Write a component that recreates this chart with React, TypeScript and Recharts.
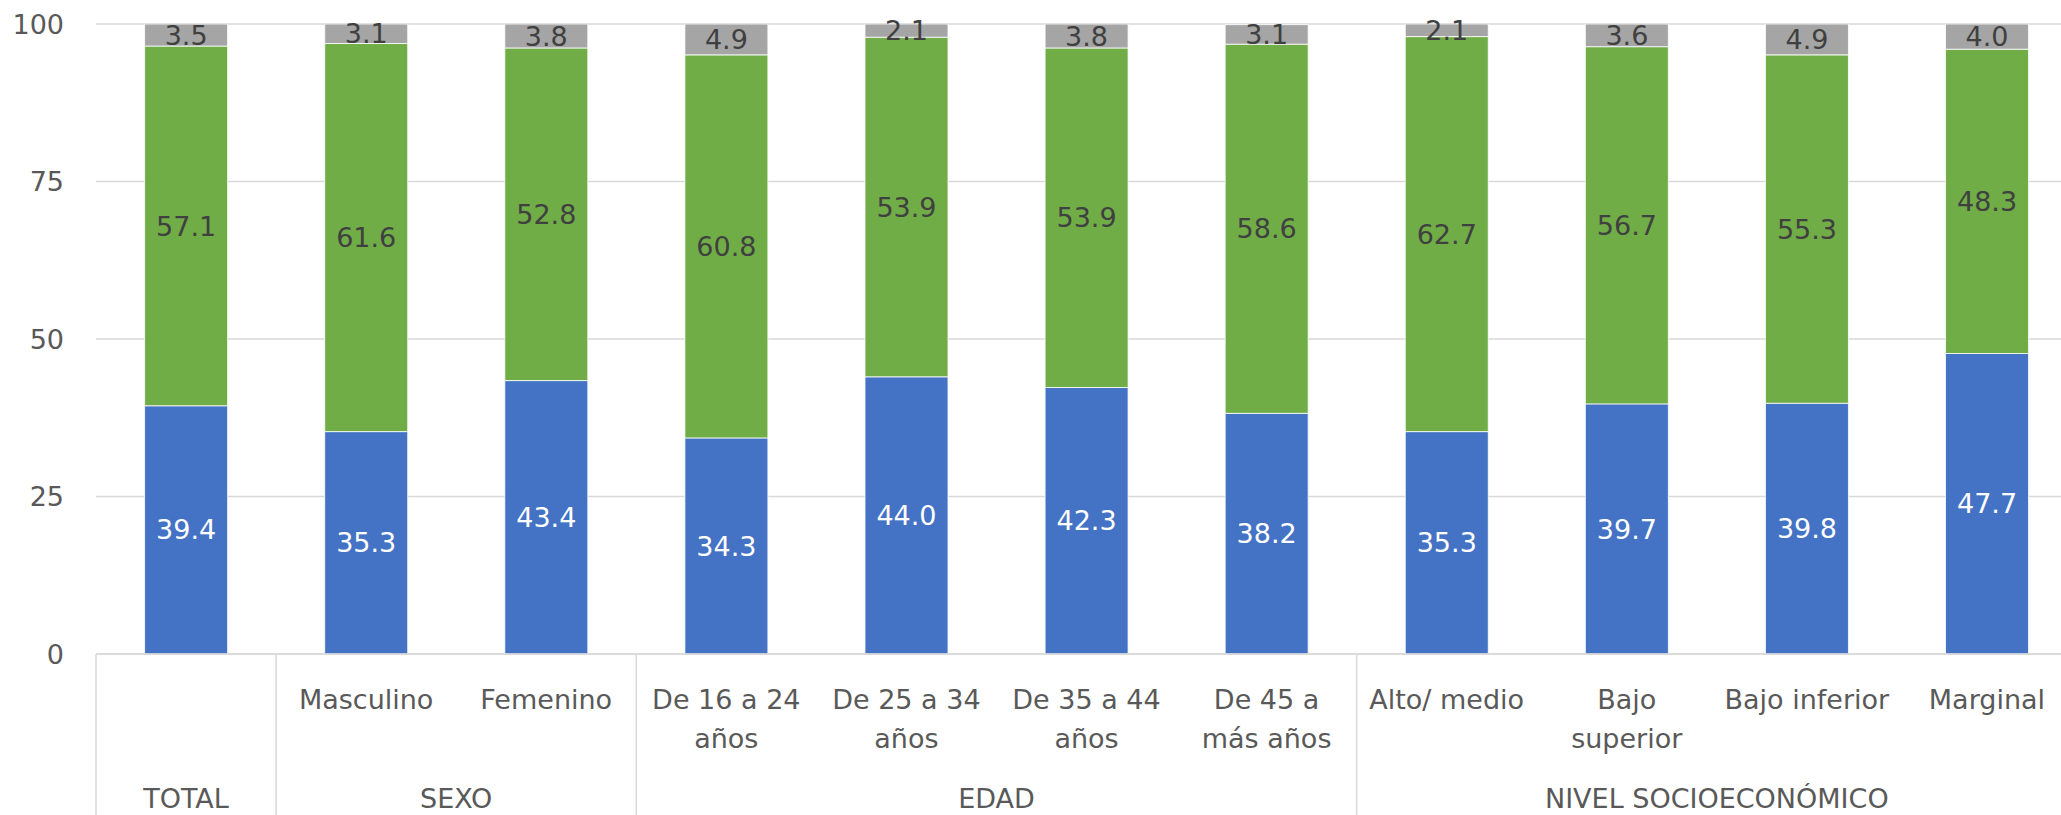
import React from 'react';
import { BarChart, Bar, XAxis, YAxis, CartesianGrid, LabelList } from 'recharts';

const categories = ['TOTAL', 'Masculino', 'Femenino', 'De 16 a 24 años', 'De 25 a 34 años', 'De 35 a 44 años', 'De 45 a más años', 'Alto/ medio', 'Bajo superior', 'Bajo inferior', 'Marginal'];
const categoryLabels = ['', 'Masculino', 'Femenino', 'De 16 a 24\naños', 'De 25 a 34\naños', 'De 35 a 44\naños', 'De 45 a\nmás años', 'Alto/ medio', 'Bajo\nsuperior', 'Bajo inferior', 'Marginal'];
const blueValues = [39.4, 35.3, 43.4, 34.3, 44.0, 42.3, 38.2, 35.3, 39.7, 39.8, 47.7];
const greenValues = [57.1, 61.6, 52.8, 60.8, 53.9, 53.9, 58.6, 62.7, 56.7, 55.3, 48.3];
const grayValues = [3.5, 3.1, 3.8, 4.9, 2.1, 3.8, 3.1, 2.1, 3.6, 4.9, 4.0];
const yTicks = [0, 25, 50, 75, 100];
const groups = [
  { name: 'TOTAL', start: 0, count: 1 },
  { name: 'SEXO', start: 1, count: 2 },
  { name: 'EDAD', start: 3, count: 4 },
  { name: 'NIVEL SOCIOECONÓMICO', start: 7, count: 4 },
];

const data = categories.map((name, i) => ({
  name,
  blue: blueValues[i],
  green: greenValues[i],
  gray: grayValues[i],
}));

const W = 2077;
const H = 830;
const TOP = 24;
const Y_W = 96;
const X_H = 176;
const AXIS_Y = H - X_H;
const BAND = (W - Y_W) / categories.length;
const FONT = '"DejaVu Sans", sans-serif';
const AXIS_COLOR = '#d9d9d9';
const TEXT_COLOR = '#595959';

const fmt = (v: any) => Number(v).toFixed(1);

const CategoryTick = (props: any) => {
  const { x, payload } = props;
  const idx = payload.index;
  const lines = categoryLabels[idx].split('\n');
  const group = groups.find(g => g.start === idx);
  const left = x - BAND / 2;
  return (
    <g>
      {lines.map((l, i) => (
        <text key={i} x={x} y={AXIS_Y + 55 + i * 39} textAnchor="middle" fill={TEXT_COLOR} fontSize={27} fontFamily={FONT}>{l}</text>
      ))}
      {group && (
        <>
          <line x1={left} x2={left} y1={AXIS_Y} y2={H} stroke={AXIS_COLOR} strokeWidth={1.5} />
          <text x={left + (group.count * BAND) / 2} y={AXIS_Y + 154} textAnchor="middle" fill={TEXT_COLOR} fontSize={27} fontFamily={FONT}>{group.name}</text>
        </>
      )}
    </g>
  );
};

const ValueTick = (props: any) => {
  const { y, payload } = props;
  return (
    <text x={64} y={y} textAnchor="end" dominantBaseline="central" fill={TEXT_COLOR} fontSize={27} fontFamily={FONT}>{payload.value}</text>
  );
};

export default function App() {
  return (
    <div style={{ position: 'absolute', left: 0, top: 0, width: 2061, height: 815, overflow: 'hidden', background: '#fff' }}>
      <BarChart width={W} height={H} data={data} margin={{ top: TOP, right: 0, bottom: 0, left: 0 }} barCategoryGap="27%">
        <CartesianGrid horizontal vertical={false} stroke={AXIS_COLOR} strokeWidth={1.5} />
        <XAxis dataKey="name" height={X_H} interval={0} tickLine={false} axisLine={{ stroke: AXIS_COLOR, strokeWidth: 1.5 }} tick={<CategoryTick />} />
        <YAxis width={Y_W} domain={[0, 100]} ticks={yTicks} allowDataOverflow axisLine={false} tickLine={false} tick={<ValueTick />} />
        <Bar dataKey="blue" stackId="a" fill="#4472c4" stroke="#ffffff" strokeWidth={0.8} isAnimationActive={false}>
          <LabelList dataKey="blue" position="center" fill="#ffffff" fontSize={27} fontFamily={FONT} formatter={fmt} />
        </Bar>
        <Bar dataKey="green" stackId="a" fill="#70ad47" stroke="#ffffff" strokeWidth={0.8} isAnimationActive={false}>
          <LabelList dataKey="green" position="center" fill="#404040" fontSize={27} fontFamily={FONT} formatter={fmt} />
        </Bar>
        <Bar dataKey="gray" stackId="a" fill="#a5a5a5" stroke="#ffffff" strokeWidth={0.8} isAnimationActive={false}>
          <LabelList dataKey="gray" position="center" fill="#404040" fontSize={27} fontFamily={FONT} formatter={fmt} />
        </Bar>
      </BarChart>
    </div>
  );
}
